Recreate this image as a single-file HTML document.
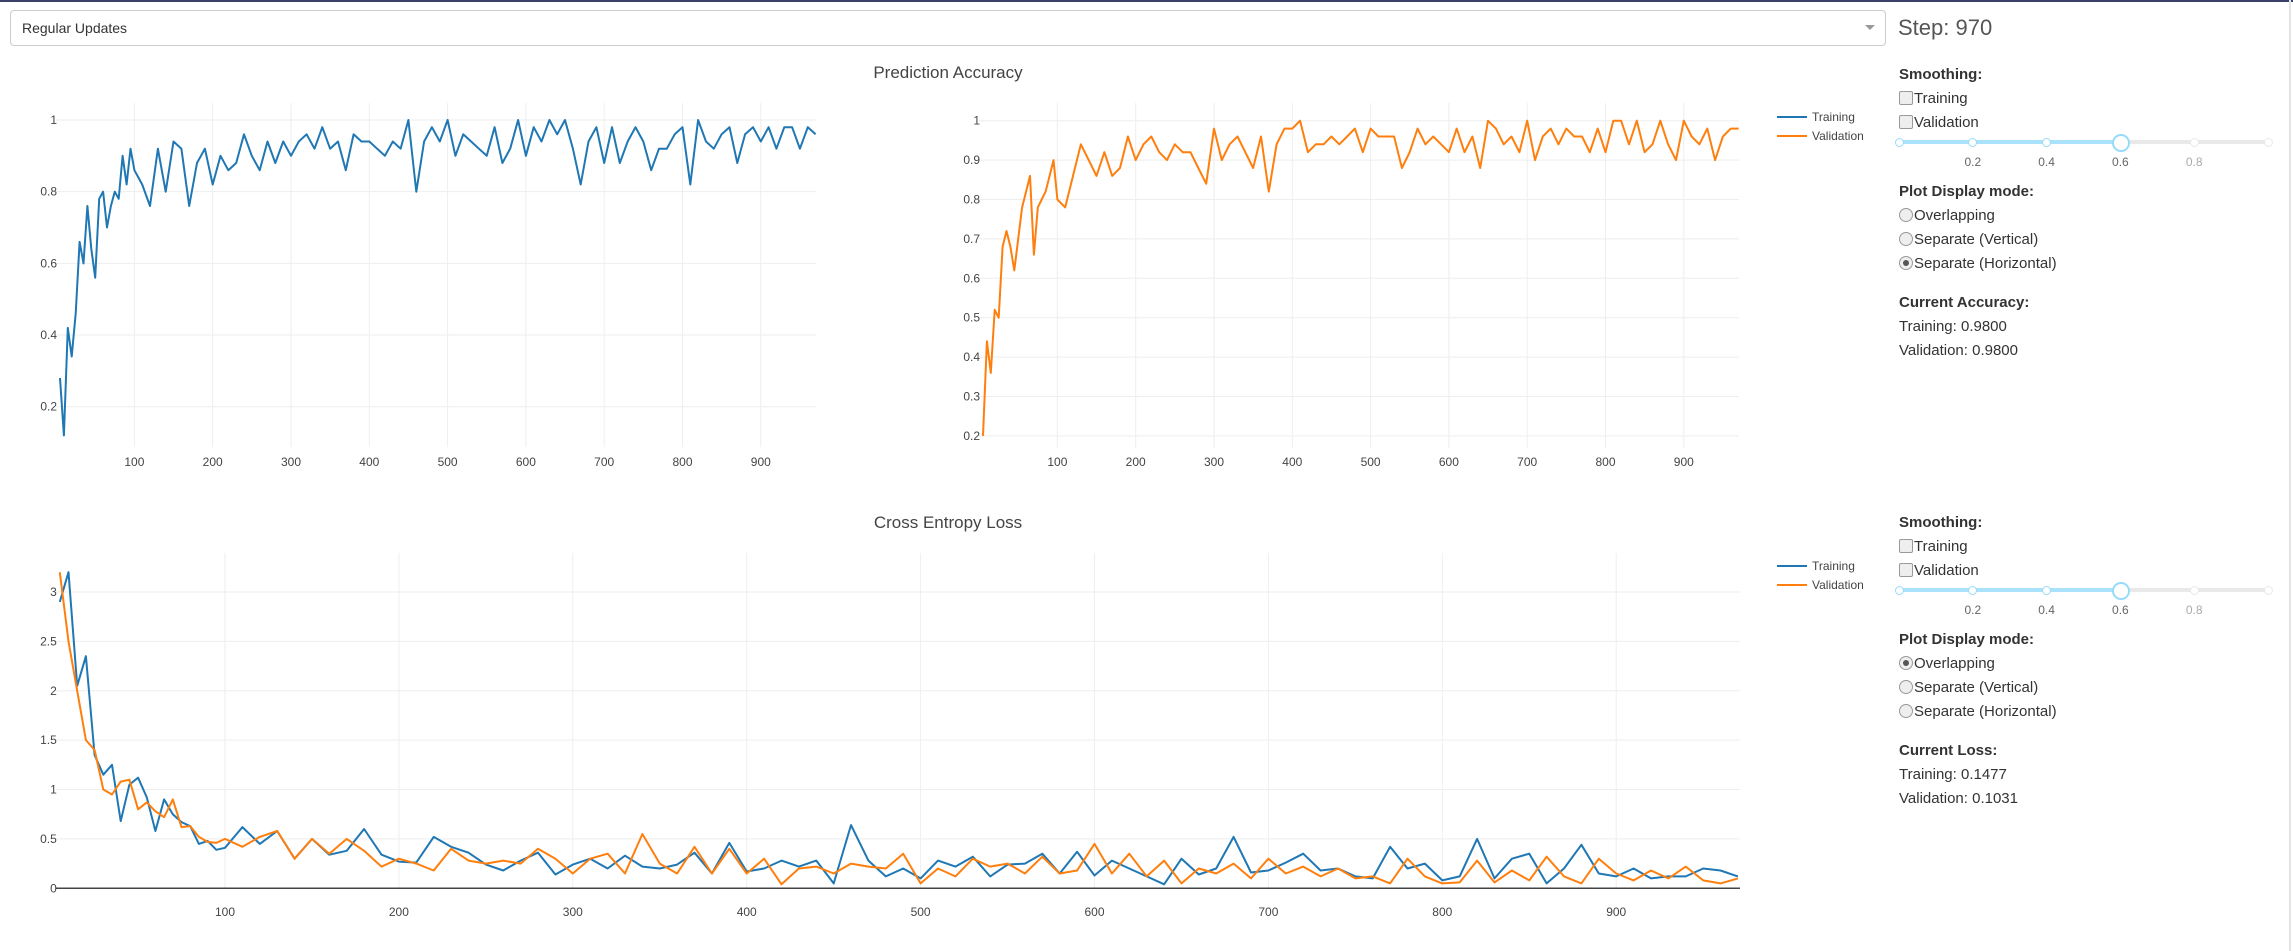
<!DOCTYPE html>
<html><head><meta charset="utf-8">
<style>
body{margin:0;width:2293px;height:951px;background:#fff;font-family:"Liberation Sans",sans-serif;overflow:hidden;position:relative}
.abs{position:absolute}
.lbl{color:#333;font-size:15px}
.b{font-weight:bold;color:#333;font-size:15px}
.cb{display:inline-block;width:12px;height:12px;border:1px solid #999;border-radius:2px;background:#eee;vertical-align:-2px;margin-right:1px}
.rd{display:inline-block;width:12px;height:12px;border:1px solid #999;border-radius:50%;background:#eee;vertical-align:-2px;margin-right:1px;position:relative}
.rd.on::after{content:"";position:absolute;left:3px;top:3px;width:6px;height:6px;border-radius:50%;background:#555}
</style></head><body>
<div class="abs" style="left:0;top:0;width:2293px;height:2px;background:#3b3f6b"></div>
<div class="abs" style="left:2289px;top:0;width:2px;height:951px;background:#e4e4e4"></div>
<div class="abs" style="left:10px;top:10px;width:1874px;height:34px;border:1px solid #ccc;border-radius:4px">
  <span style="position:absolute;left:11px;top:9px;font-size:14px;color:#333">Regular Updates</span>
  <span style="position:absolute;left:1854px;top:14px;width:0;height:0;border-left:5px solid transparent;border-right:5px solid transparent;border-top:5px solid #999"></span>
</div>
<div class="abs" style="left:1898px;top:15px;font-size:22px;color:#555">Step: 970</div>

<svg id="chart" class="abs" style="left:0;top:0" width="2293" height="951"></svg>

<script>
const steps=[5,10,15,20,25,30,35,40,45,50,55,60,65,70,75,80,85,90,95,100];
for(let s=110;s<=970;s+=10)steps.push(s);
const trainAcc=[.28,.12,.42,.34,.46,.66,.6,.76,.64,.56,.78,.8,.7,.76,.8,.78,.9,.82,.92,.86,
.82,.76,.92,.8,.94,.92,.76,.88,.92,.82,
.9,.86,.88,.96,.9,.86,.94,.88,.94,.9,
.94,.96,.92,.98,.92,.94,.86,.96,.94,.94,
.92,.9,.94,.92,1.0,.8,.94,.98,.94,1.0,
.9,.96,.94,.92,.9,.98,.88,.92,1.0,.9,
.98,.94,1.0,.96,1.0,.92,.82,.94,.98,.88,
.98,.88,.94,.98,.94,.86,.92,.92,.96,.98,
.82,1.0,.94,.92,.96,.98,.88,.96,.98,.94,
.98,.92,.98,.98,.92,.98,.96];
const valAcc=[.2,.44,.36,.52,.5,.68,.72,.68,.62,.7,.78,.82,.86,.66,.78,.8,.82,.86,.9,.8,
.78,.86,.94,.9,.86,.92,.86,.88,.96,.9,
.94,.96,.92,.9,.94,.92,.92,.88,.84,.98,
.9,.94,.96,.92,.88,.96,.82,.94,.98,.98,
1.0,.92,.94,.94,.96,.94,.96,.98,.92,.98,
.96,.96,.96,.88,.92,.98,.94,.96,.94,.92,
.98,.92,.96,.88,1.0,.98,.94,.96,.92,1.0,
.9,.96,.98,.94,.98,.96,.96,.92,.98,.92,
1.0,1.0,.94,1.0,.92,.94,1.0,.94,.9,1.0,
.96,.94,.98,.9,.96,.98,.98];
const trainLoss=[2.9,3.2,2.05,2.35,1.35,1.15,1.25,.68,1.05,1.12,.92,.58,.9,.75,.67,.63,.45,.48,.39,.41,
.62,.45,.58,.3,.5,.34,.38,.6,.34,.27,
.26,.52,.42,.36,.24,.18,.28,.36,.14,.24,
.3,.2,.33,.22,.2,.24,.36,.15,.46,.17,
.2,.28,.22,.28,.05,.64,.28,.12,.2,.1,
.28,.22,.32,.12,.24,.25,.35,.15,.37,.13,
.28,.2,.12,.04,.3,.14,.2,.52,.16,.18,
.26,.35,.18,.2,.12,.1,.42,.2,.25,.08,
.12,.5,.1,.3,.35,.05,.2,.44,.15,.12,
.2,.1,.12,.12,.2,.18,.12];
const valLoss=[3.2,2.5,2.0,1.5,1.4,1.0,.95,1.08,1.1,.8,.87,.78,.72,.9,.62,.63,.52,.47,.46,.5,
.42,.52,.58,.3,.5,.35,.5,.38,.22,.3,
.25,.18,.4,.28,.25,.28,.25,.4,.3,.15,
.3,.35,.15,.55,.25,.15,.42,.15,.4,.15,
.3,.04,.2,.22,.15,.25,.22,.2,.35,.05,
.2,.12,.3,.22,.25,.15,.32,.15,.18,.45,
.15,.35,.12,.28,.05,.2,.15,.25,.1,.3,
.15,.22,.12,.2,.1,.12,.05,.3,.12,.05,
.06,.28,.06,.18,.08,.32,.12,.05,.3,.15,
.08,.18,.1,.22,.08,.05,.1];
const xTicks=[100,200,300,400,500,600,700,800,900];
const accTicks1=[0.2,0.4,0.6,0.8,1];
const accTicks2=[0.2,0.3,0.4,0.5,0.6,0.7,0.8,0.9,1];
const lossTicks=[0,0.5,1,1.5,2,2.5,3];

const NS="http://www.w3.org/2000/svg";
const svg=document.getElementById('chart');
function el(tag,attrs,parent){const e=document.createElementNS(NS,tag);for(const k in attrs)e.setAttribute(k,attrs[k]);(parent||svg).appendChild(e);return e;}

function plot(o){
  const g=el('g',{});
  
  
  const xs=s=>o.x0+(s-5)*o.kx;
  const ys=v=>o.y1+(o.v1-v)*o.ky;
  xTicks.forEach(t=>{
    const gl=el('line',{x1:xs(t),x2:xs(t),y1:o.top,y2:o.bot,stroke:'#eee','stroke-width':1},g);
    
    
    const tx=el('text',{x:xs(t),y:o.lblY,'text-anchor':'middle','font-size':12,fill:'#444','font-family':'Liberation Sans, sans-serif'},g);
    tx.textContent=t;
    
    
  });
  o.yt.forEach(t=>{
    const isZero=(t===0);
    const gl=el('line',{x1:o.x0-4,x2:o.right,y1:ys(t),y2:ys(t),stroke:isZero?'#444':'#eee','stroke-width':isZero?1.5:1},g);
    
    
    const tx=el('text',{x:o.x0-3,y:ys(t)+4,'text-anchor':'end','font-size':12,fill:'#444','font-family':'Liberation Sans, sans-serif'},g);
    tx.textContent=t;
    
    
  });
  o.series.forEach(sr=>{
    const d=steps.map((s,i)=>(i?'L':'M')+xs(s).toFixed(1)+' '+ys(sr.v[i]).toFixed(1)).join(' ');
    const p=el('path',{d:d,fill:'none',stroke:sr.c,'stroke-width':2,'stroke-linejoin':'round'},g);
    
    
  });
}
plot({name:'training-accuracy-plot',x0:60,kx:0.783,right:816,y1:120,v1:1,ky:358.4,top:103,bot:447,lblY:466,yt:accTicks1,
  series:[{v:trainAcc,c:'#1f77b4',n:'training-accuracy-line'}]});
plot({name:'validation-accuracy-plot',x0:983,kx:0.783,right:1739,y1:120.7,v1:1,ky:394,top:103,bot:448,lblY:466,yt:accTicks2,
  series:[{v:valAcc,c:'#ff7f0e',n:'validation-accuracy-line'}]});
plot({name:'loss-plot',x0:59.8,kx:1.739,right:1740,y1:888.3,v1:0,ky:98.77,top:553,bot:888,lblY:916,yt:lossTicks,
  series:[{v:trainLoss,c:'#1f77b4',n:'training-loss-line'},{v:valLoss,c:'#ff7f0e',n:'validation-loss-line'}]});

function title(t,y,n){const e=el('text',{x:948,y:y,'text-anchor':'middle','font-size':17,fill:'#444','font-family':'Liberation Sans, sans-serif'});e.textContent=t;

}
title('Prediction Accuracy',78,'accuracy-title');
title('Cross Entropy Loss',528,'loss-title');

function legend(y,n){
  [['Training','#1f77b4'],['Validation','#ff7f0e']].forEach((it,i)=>{
    const g=el('g',{});
    
    
    el('line',{x1:1777,x2:1807,y1:y+i*19,y2:y+i*19,stroke:it[1],'stroke-width':2},g);
    const t=el('text',{x:1812,y:y+i*19+4,'font-size':12,fill:'#444','font-family':'Liberation Sans, sans-serif'},g);t.textContent=it[0];
  });
}
legend(117,'accuracy-legend');
legend(566,'loss-legend');

function panel(top,mode,metric,tv,vv,pfx){
  const d=document.createElement('div');
  d.className='abs';
  d.style.left='1899px';d.style.top=top+'px';d.style.width='390px';d.style.height='300px';
  
  
  const modes=['Overlapping','Separate (Vertical)','Separate (Horizontal)'];
  let h='<div class="abs b" style="left:0;top:0">Smoothing:</div>';
  h+='<div class="abs lbl" style="left:0;top:24px"><span class="cb"></span>Training</div>';
  h+='<div class="abs lbl" style="left:0;top:48px"><span class="cb"></span>Validation</div>';
  h+='<div class="abs" style="left:0;top:68px;width:372px;height:40px">';
  h+='<div style="position:absolute;left:0;top:6px;width:369px;height:4px;background:#e9e9e9;border-radius:2px"></div>';
  h+='<div style="position:absolute;left:0;top:6px;width:221px;height:4px;background:#abe2fb;border-radius:2px"></div>';
  const hx=[0,73.8,147.6,221.4,295.2,369];
  hx.forEach((x,i)=>{const act=i<=3;const big=i===3;const s=big?14:7;
    h+='<div style="position:absolute;left:'+(x-s/2-1)+'px;top:'+(8-s/2-1)+'px;width:'+s+'px;height:'+s+'px;border-radius:50%;background:#fff;border:'+(big?2:1)+'px solid '+(act?'#96dbfa':'#e9e9e9')+'"></div>';});
  ['0.2','0.4','0.6','0.8'].forEach((l,i)=>{h+='<div style="position:absolute;left:'+(hx[i+1]-20)+'px;width:40px;text-align:center;top:21px;font-size:12px;color:'+(i<3?'#666':'#aaa')+'">'+l+'</div>';});
  h+='</div>';
  h+='<div class="abs b" style="left:0;top:117px">Plot Display mode:</div>';
  modes.forEach((m,i)=>{h+='<div class="abs lbl" style="left:0;top:'+(141+i*24)+'px"><span class="rd'+(i===mode?' on':'')+'"></span>'+m+'</div>';});
  h+='<div class="abs b" style="left:0;top:228px">Current '+metric+':</div>';
  h+='<div class="abs lbl" style="left:0;top:252px">Training: '+tv+'</div>';
  h+='<div class="abs lbl" style="left:0;top:276px">Validation: '+vv+'</div>';
  d.innerHTML=h;
  document.body.appendChild(d);
}
panel(66,2,'Accuracy','0.9800','0.9800','accuracy');
panel(514,0,'Loss','0.1477','0.1031','loss');
</script>
</body></html>
